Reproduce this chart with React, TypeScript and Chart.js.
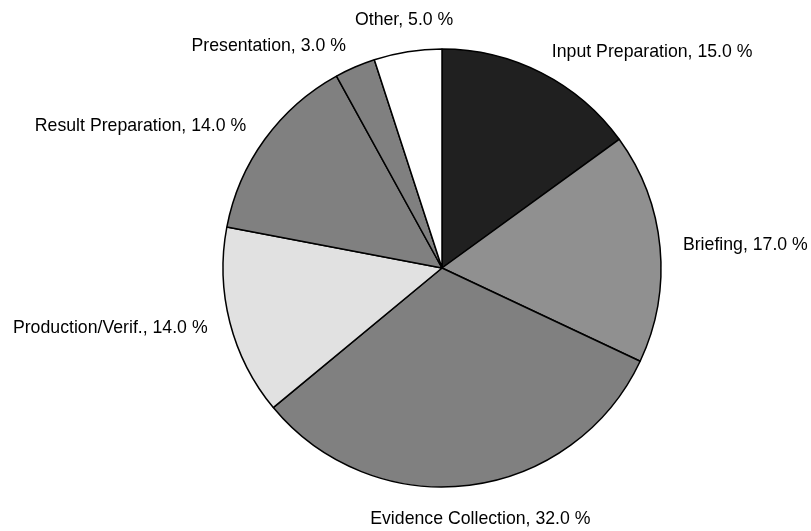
import React, { useEffect, useRef } from "react";
import { Chart, registerables } from "chart.js";

Chart.register(...registerables);

// Share of effort per activity, clockwise from 12 o'clock
const categories = [
  "Input Preparation",
  "Briefing",
  "Evidence Collection",
  "Production/Verif.",
  "Result Preparation",
  "Presentation",
  "Other",
];
const shares = [15.0, 17.0, 32.0, 14.0, 14.0, 3.0, 5.0];
const sliceColors = ["#202020", "#909090", "#808080", "#e1e1e1", "#808080", "#808080", "#ffffff"];

const FONT = '17.7px "Liberation Sans", Arial, Helvetica, sans-serif';

// Writes "<name>, <value> %" just outside each slice at its middle angle
const outsideLabels = {
  id: "outsideLabels",
  afterDatasetsDraw(chart: any) {
    const ctx: CanvasRenderingContext2D = chart.ctx;
    const meta = chart.getDatasetMeta(0);
    ctx.save();
    ctx.font = FONT;
    ctx.fillStyle = "#000000";
    meta.data.forEach((arc: any, i: number) => {
      const { x, y, startAngle, endAngle, outerRadius } = arc.getProps(
        ["x", "y", "startAngle", "endAngle", "outerRadius"],
        true
      );
      const mid = (startAngle + endAngle) / 2;
      const c = Math.cos(mid);
      const s = Math.sin(mid);
      const r = outerRadius + 23;
      let ax = x + r * c;
      let ay = y + r * s;
      if (Math.abs(c) < 0.2) {
        ctx.textAlign = "center";
        ctx.textBaseline = s < 0 ? "bottom" : "top";
        if (s > 0) {
          // bottom label sits a little further along the slice's lean
          ax += c * 64;
          ay += 2;
        }
      } else {
        ctx.textAlign = c > 0 ? "left" : "right";
        ctx.textBaseline = "middle";
      }
      const text = `${categories[i]}, ${shares[i].toFixed(1)} %`;
      ctx.fillText(text, ax, ay);
    });
    ctx.restore();
  },
};

export default function App() {
  const canvasRef = useRef<HTMLCanvasElement | null>(null);

  useEffect(() => {
    document.body.style.margin = "0";
    const canvas = canvasRef.current;
    if (!canvas) return;
    const chart = new Chart(canvas, {
      type: "pie",
      data: {
        labels: categories,
        datasets: [
          {
            data: shares,
            backgroundColor: sliceColors,
            borderColor: "#000000",
            borderWidth: 1.5,
          },
        ],
      },
      options: {
        responsive: false,
        animation: false,
        radius: 219,
        layout: { padding: { left: 73, right: 0, top: 5, bottom: 0 } },
        plugins: {
          legend: { display: false },
          tooltip: { enabled: false },
        },
      } as any,
      plugins: [outsideLabels],
    });
    return () => chart.destroy();
  }, []);

  return (
    <div style={{ width: 811, height: 531, background: "#ffffff" }}>
      <canvas ref={canvasRef} width={811} height={531} style={{ display: "block" }} />
    </div>
  );
}
